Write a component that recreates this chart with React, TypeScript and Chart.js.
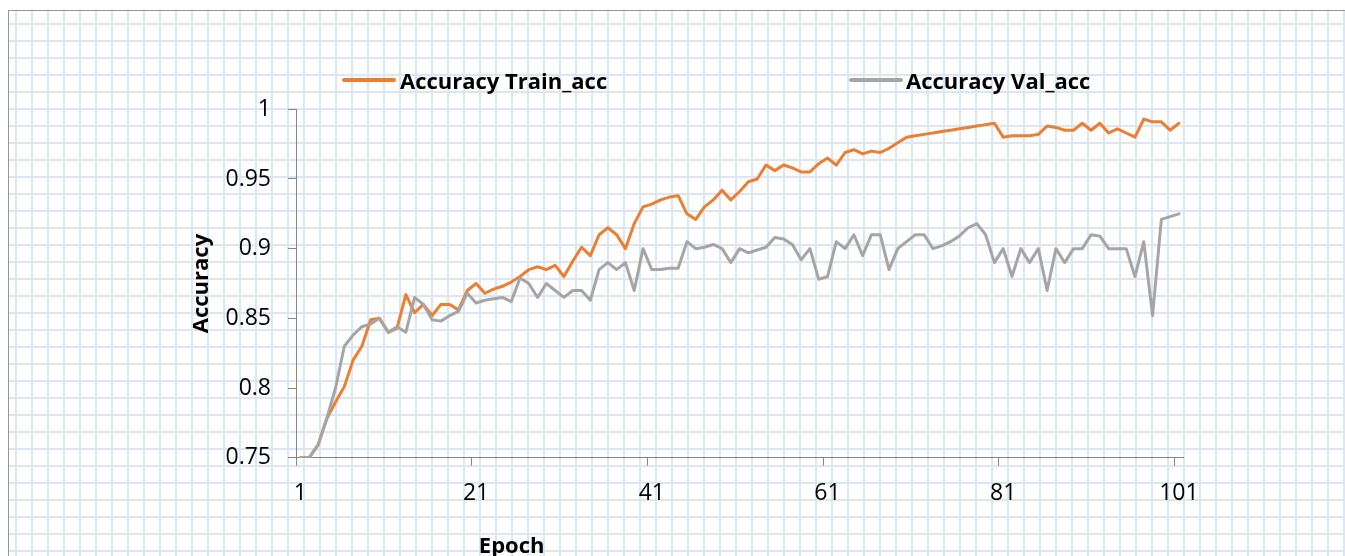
import React, { useEffect, useRef } from "react";
import { Chart, registerables } from "chart.js";

Chart.register(...registerables);

const epochs = [
  "1","2","3","4","5","6","7","8","9","10",
  "11","12","13","14","15","16","17","18","19","20",
  "21","22","23","24","25","26","27","28","29","30",
  "31","32","33","34","35","36","37","38","39","40",
  "41","42","43","44","45","46","47","48","49","50",
  "51","52","53","54","55","56","57","58","59","60",
  "61","62","63","64","65","66","67","68","69","70",
  "71","72","73","74","75","76","77","78","79","80",
  "81","82","83","84","85","86","87","88","89","90",
  "91","92","93","94","95","96","97","98","99","100",
  "101",
];

const trainAcc = [
  0.75, 0.75, 0.759, 0.778, 0.79, 0.801, 0.82, 0.83, 0.849, 0.85,
  0.84, 0.843, 0.867, 0.854, 0.86, 0.852, 0.86, 0.86, 0.856, 0.87,
  0.875, 0.868, 0.871, 0.873, 0.876, 0.88, 0.885, 0.887, 0.885, 0.888,
  0.88, 0.891, 0.901, 0.895, 0.91, 0.915, 0.91, 0.9, 0.918, 0.93,
  0.932, 0.935, 0.937, 0.938, 0.925, 0.921, 0.93, 0.935, 0.942, 0.935,
  0.941, 0.948, 0.95, 0.96, 0.956, 0.96, 0.958, 0.955, 0.955, 0.961,
  0.965, 0.96, 0.969, 0.971, 0.968, 0.97, 0.969, 0.972, 0.976, 0.98,
  0.981, 0.982, 0.983, 0.984, 0.985, 0.986, 0.987, 0.988, 0.989, 0.99,
  0.98, 0.981, 0.981, 0.981, 0.982, 0.988, 0.987, 0.985, 0.985, 0.99,
  0.985, 0.99, 0.983, 0.986, 0.983, 0.98, 0.993, 0.991, 0.991, 0.985,
  0.99,
];

const valAcc = [
  0.75, 0.75, 0.759, 0.778, 0.8, 0.83, 0.838, 0.844, 0.846, 0.85,
  0.84, 0.844, 0.84, 0.865, 0.86, 0.849, 0.848, 0.852, 0.855, 0.868,
  0.861, 0.863, 0.864, 0.865, 0.862, 0.879, 0.875, 0.865, 0.875, 0.87,
  0.865, 0.87, 0.87, 0.863, 0.885, 0.89, 0.885, 0.89, 0.87, 0.9,
  0.885, 0.885, 0.886, 0.886, 0.905, 0.9, 0.901, 0.903, 0.9, 0.89,
  0.9, 0.897, 0.899, 0.901, 0.908, 0.907, 0.903, 0.892, 0.9, 0.878,
  0.88, 0.905, 0.9, 0.91, 0.895, 0.91, 0.91, 0.885, 0.9, 0.905,
  0.91, 0.91, 0.9, 0.902, 0.905, 0.909, 0.915, 0.918, 0.91, 0.89,
  0.9, 0.88, 0.9, 0.89, 0.9, 0.87, 0.9, 0.89, 0.9, 0.9,
  0.91, 0.909, 0.9, 0.9, 0.9, 0.88, 0.905, 0.852, 0.921, 0.923,
  0.925,
];

const xTickLabels = ["1", "21", "41", "61", "81", "101"];
const yTicks = [0.75, 0.8, 0.85, 0.9, 0.95, 1];

const seriesNames = ["Accuracy Train_acc", "Accuracy Val_acc"];
const xTitle = "Epoch";
const yTitle = "Accuracy";

const ORANGE = "#ED7D31";
const GRAY = "#A5A5A5";
const AXIS = "#868686";
const GRIDBLUE = "#dce6f2";
const FAMILY = "'Open Sans', 'Liberation Sans', sans-serif";

export default function App() {
  const canvasRef = useRef<HTMLCanvasElement>(null);

  useEffect(() => {
    const canvas = canvasRef.current;
    if (!canvas) return;
    const chart = new Chart(canvas, {
      type: "line",
      data: {
        labels: epochs,
        datasets: [
          {
            label: seriesNames[0],
            data: trainAcc,
            borderColor: ORANGE,
            backgroundColor: ORANGE,
            borderWidth: 3,
            pointRadius: 0,
            pointHoverRadius: 0,
            tension: 0,
            fill: false,
            borderJoinStyle: "round",
            borderCapStyle: "round",
            order: 1,
          },
          {
            label: seriesNames[1],
            data: valAcc,
            borderColor: GRAY,
            backgroundColor: GRAY,
            borderWidth: 3,
            pointRadius: 0,
            pointHoverRadius: 0,
            tension: 0,
            fill: false,
            borderJoinStyle: "round",
            borderCapStyle: "round",
            order: 0,
          },
        ],
      },
      options: {
        responsive: false,
        maintainAspectRatio: false,
        animation: false,
        devicePixelRatio: 1,
        layout: {
          padding: { left: 186, right: 161.7, top: 109.3, bottom: 48.3 },
        },
        plugins: {
          legend: { display: false },
          tooltip: { enabled: false },
        },
        scales: {
          x: {
            type: "category",
            offset: true,
            grid: {
              display: true,
              offset: true,
              drawOnChartArea: false,
              drawTicks: true,
              tickLength: 8,
              tickWidth: 1,
              tickColor: (ctx: any) =>
                typeof ctx.index === "number" && ctx.index % 20 === 0 ? AXIS : "rgba(0,0,0,0)",
            },
            border: { display: true, color: AXIS, width: 1 },
            ticks: {
              autoSkip: false,
              maxRotation: 0,
              minRotation: 0,
              padding: 14,
              color: "#000",
              font: { family: FAMILY, size: 23 },
              callback: (_v: any, index: number) => {
                const l = epochs[index];
                return xTickLabels.includes(l) ? l : "";
              },
            },
            afterFit: (s: any) => {
              s.height = 50;
            },
          },
          y: {
            type: "linear",
            min: 0.75,
            max: 1,
            afterBuildTicks: (s: any) => {
              s.ticks = yTicks.map((v) => ({ value: v }));
            },
            grid: {
              display: true,
              drawOnChartArea: false,
              drawTicks: true,
              tickLength: 8,
              tickWidth: 1,
              tickColor: AXIS,
            },
            border: { display: true, color: AXIS, width: 1 },
            ticks: {
              padding: 17,
              color: "#000",
              font: { family: FAMILY, size: 23 },
              callback: (v: any) => String(Number(Number(v).toFixed(2))),
            },
            title: {
              display: true,
              text: yTitle,
              color: "#000",
              font: { family: FAMILY, size: 22, weight: "bold" },
              padding: { top: 3, bottom: 0 },
            },
            afterFit: (s: any) => {
              s.width = 110;
            },
          },
        },
      },
    });
    return () => chart.destroy();
  }, []);

  const legendText: React.CSSProperties = {
    position: "absolute",
    font: `bold 22px ${FAMILY}`,
    lineHeight: "22px",
    whiteSpace: "nowrap",
    color: "#000",
  };

  return (
    <div
      style={{
        position: "absolute",
        left: 0,
        top: 0,
        width: 1345,
        height: 556,
        overflow: "hidden",
        background: "#fff",
      }}
    >
      <div
        style={{
          position: "absolute",
          left: 8,
          top: 10,
          width: 1400,
          height: 600,
          borderLeft: "1px solid #959595",
          borderTop: "1px solid #959595",
          backgroundColor: "#fff",
          backgroundImage: `linear-gradient(to right, ${GRIDBLUE} 2px, transparent 2px), linear-gradient(to bottom, ${GRIDBLUE} 2px, transparent 2px)`,
          backgroundSize: "16px 17px",
          backgroundPosition: "6px 12px",
        }}
      />
      <canvas
        ref={canvasRef}
        width={1345}
        height={556}
        style={{ position: "absolute", left: 0, top: 0, width: 1345, height: 556 }}
      />
      <div
        style={{
          position: "absolute",
          left: 342,
          top: 77.5,
          width: 54,
          height: 4,
          borderRadius: 2,
          background: ORANGE,
        }}
      />
      <div style={{ ...legendText, left: 400, top: 69 }}>{seriesNames[0]}</div>
      <div
        style={{
          position: "absolute",
          left: 849,
          top: 77.5,
          width: 54,
          height: 4,
          borderRadius: 2,
          background: GRAY,
        }}
      />
      <div style={{ ...legendText, left: 906, top: 69 }}>{seriesNames[1]}</div>
      <div
        style={{
          ...legendText,
          left: 511.7,
          top: 533,
          transform: "translateX(-50%)",
        }}
      >
        {xTitle}
      </div>
    </div>
  );
}
